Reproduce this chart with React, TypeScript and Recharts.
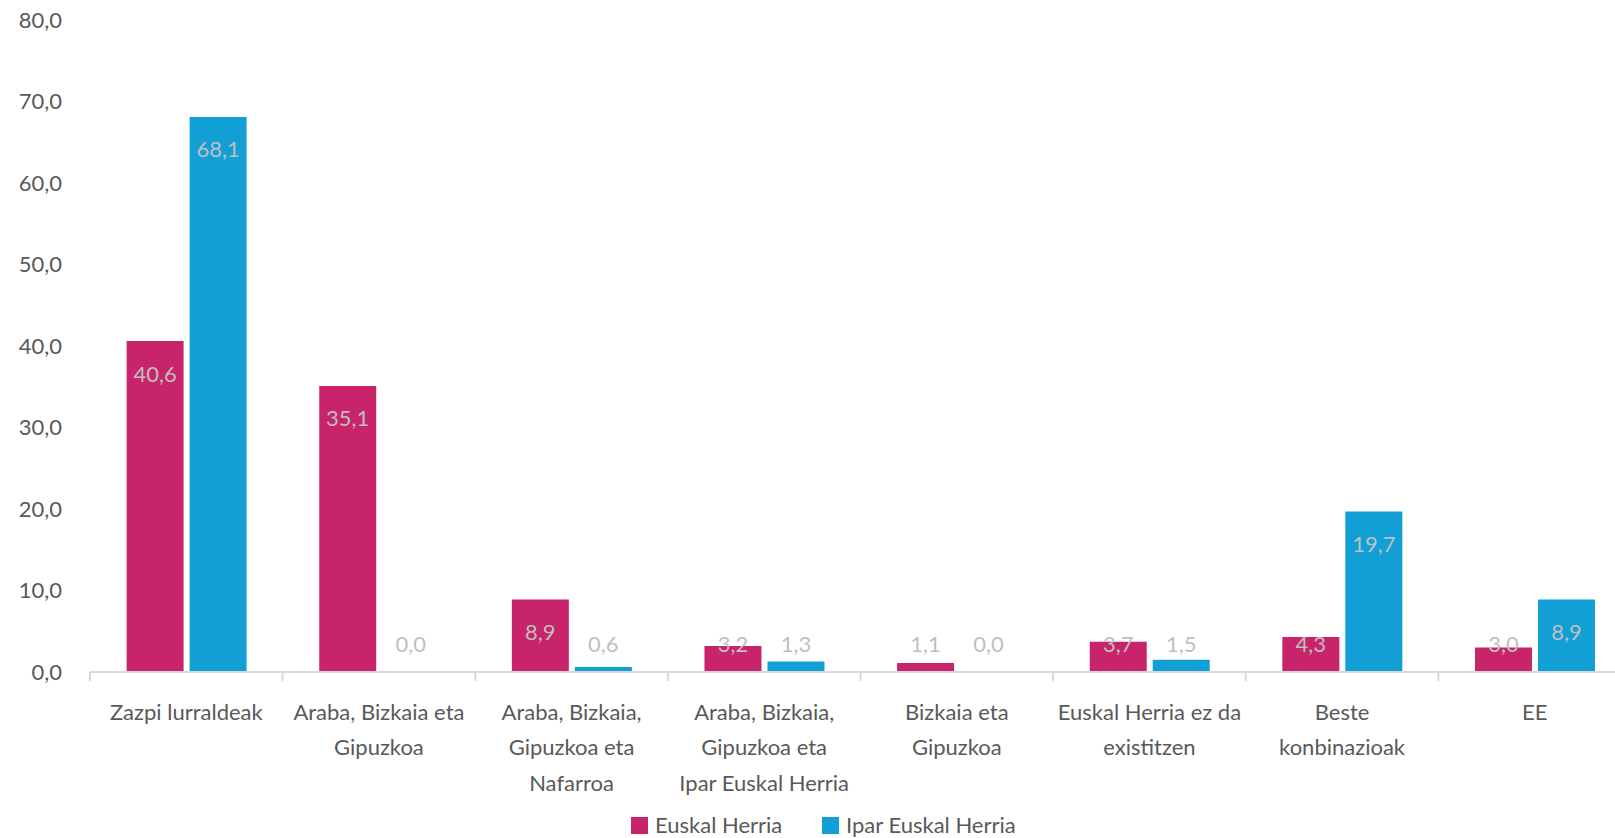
import { BarChart, Bar, XAxis, YAxis, Rectangle } from "recharts";

const CATEGORIES = [
  "Zazpi lurraldeak",
  "Araba, Bizkaia eta\nGipuzkoa",
  "Araba, Bizkaia,\nGipuzkoa eta\nNafarroa",
  "Araba, Bizkaia,\nGipuzkoa eta\nIpar Euskal Herria",
  "Bizkaia eta\nGipuzkoa",
  "Euskal Herria ez da\nexistitzen",
  "Beste\nkonbinazioak",
  "EE",
];
const EUSKAL_HERRIA = [40.6, 35.1, 8.9, 3.2, 1.1, 3.7, 4.3, 3.0];
const IPAR_EUSKAL_HERRIA = [68.1, 0.0, 0.6, 1.3, 0.0, 1.5, 19.7, 8.9];
const Y_TICKS = [0, 10, 20, 30, 40, 50, 60, 70, 80];

const SERIES = [
  { key: "eh", name: "Euskal Herria", color: "#C8246C", legendX: 631 },
  { key: "ieh", name: "Ipar Euskal Herria", color: "#129FD6", legendX: 822 },
];

const FONT = "Lato, 'Open Sans', sans-serif";
const TEXT = "#595959";
const AXIS = "#D9D9D9";

const CHART_W = 1631;
const CHART_H = 838;
const PLOT_LEFT = 90;
const BAND = (CHART_W - PLOT_LEFT) / CATEGORIES.length;

const data = CATEGORIES.map((name, i) => ({
  name,
  eh: EUSKAL_HERRIA[i],
  ieh: IPAR_EUSKAL_HERRIA[i],
}));

const fmt = (v: number) => Number(v).toFixed(1).replace(".", ",");

function CategoryTick(props: any) {
  const { x, y, payload, index } = props;
  const half = payload?.offset || BAND / 2;
  const lines = String(payload.value).split("\n");
  return (
    <g>
      <line x1={x - half} x2={x - half} y1={y} y2={y + 9} stroke={AXIS} strokeWidth={2} />
      {index === CATEGORIES.length - 1 && (
        <line x1={x + half} x2={x + half} y1={y} y2={y + 9} stroke={AXIS} strokeWidth={2} />
      )}
      {lines.map((line, i) => (
        <text
          key={i}
          x={x}
          y={y + 39 + i * 35.5}
          textAnchor="middle"
          dominantBaseline="central"
          fill={TEXT}
          fontSize={22}
          fontFamily={FONT}
        >
          {line}
        </text>
      ))}
    </g>
  );
}

function ValueLabel(props: any) {
  const { x, y, width, height, value } = props;
  const top = Math.min(y, y + (height || 0));
  const base = Math.max(y, y + (height || 0));
  const cy = Math.min(top + 32, base - 29);
  return (
    <text
      x={x + width / 2}
      y={cy}
      textAnchor="middle"
      dominantBaseline="central"
      fill="#BFBFBF"
      fontSize={22}
      fontFamily={FONT}
    >
      {fmt(value)}
    </text>
  );
}

// zero values get a 1px placeholder so their label is still drawn; the shape hides it
const zeroPlaceholder = (value: any) => (Number(value) === 0 ? 1 : 0);

export default function App() {
  return (
    <div
      style={{
        position: "absolute",
        left: 0,
        top: 0,
        width: 1615,
        height: 838,
        overflow: "hidden",
        background: "#fff",
        fontFamily: FONT,
      }}
    >
      <BarChart
        width={CHART_W}
        height={CHART_H}
        data={data}
        margin={{ top: 20, right: 0, bottom: 46, left: 0 }}
        barCategoryGap="19%"
        barGap={6}
      >
        <XAxis
          dataKey="name"
          interval={0}
          height={120}
          tickSize={0}
          tickMargin={0}
          tickLine={false}
          axisLine={{ stroke: AXIS, strokeWidth: 2 }}
          tick={<CategoryTick />}
        />
        <YAxis
          width={PLOT_LEFT}
          domain={[0, 80]}
          ticks={Y_TICKS}
          axisLine={false}
          tickLine={false}
          tickSize={0}
          tickMargin={28}
          tickFormatter={fmt}
          tick={{ fill: TEXT, fontSize: 22, fontFamily: FONT }}
        />
        {SERIES.map((s) => (
          <Bar
            key={s.key}
            dataKey={s.key}
            name={s.name}
            fill={s.color}
            isAnimationActive={false}
            minPointSize={zeroPlaceholder}
            shape={(p: any) =>
              Number(p.payload?.[s.key]) === 0 ? <g /> : <Rectangle {...p} />
            }
            label={<ValueLabel />}
          />
        ))}
      </BarChart>
      {SERIES.map((s) => (
        <div
          key={s.key}
          style={{
            position: "absolute",
            top: 813,
            left: s.legendX,
            display: "flex",
            alignItems: "center",
            fontSize: 22,
            color: TEXT,
            lineHeight: "24px",
            whiteSpace: "nowrap",
          }}
        >
          <span
            style={{ width: 17, height: 17, background: s.color, display: "inline-block", marginRight: 7 }}
          />
          <span>{s.name}</span>
        </div>
      ))}
    </div>
  );
}
